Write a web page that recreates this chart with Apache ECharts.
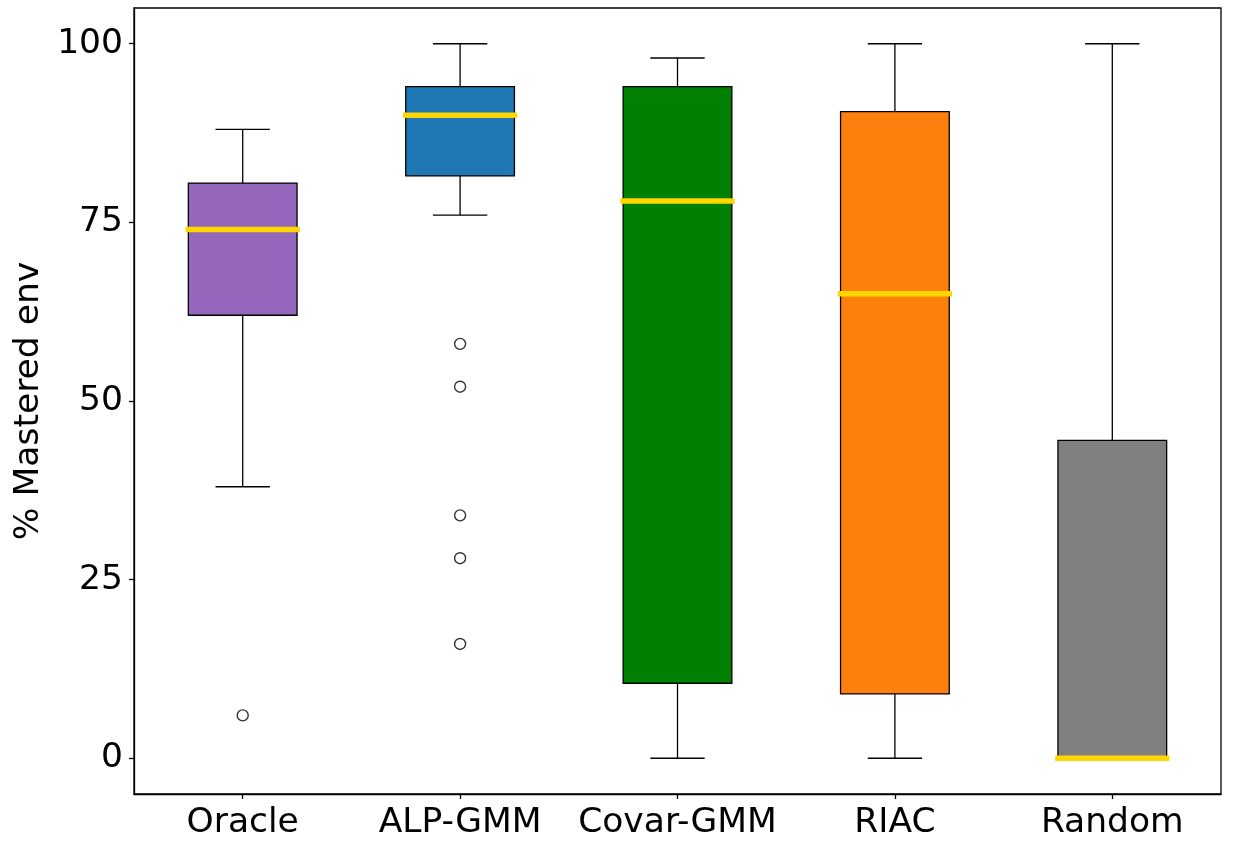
<!DOCTYPE html>
<html>
<head>
<meta charset="utf-8">
<script src="https://cdn.jsdelivr.net/npm/echarts@6/dist/echarts.min.js"></script>
<style>
html,body{margin:0;padding:0;background:#fff;}
#main{width:1244px;height:842px;}
</style>
</head>
<body>
<div id="main"></div>
<script>
var categories = ['Oracle', 'ALP-GMM', 'Covar-GMM', 'RIAC', 'Random'];
var whiskerLow = [38, 76, 0, 0, 0];
var q1 = [62, 81.5, 10.5, 9, 0];
var median = [74, 90, 78, 65, 0];
var q3 = [80.5, 94, 94, 90.5, 44.5];
var whiskerHigh = [88, 100, 98, 100, 100];
var outliers = [[6], [58, 52, 34, 28, 16], [], [], []];
var yTicks = [0, 25, 50, 75, 100];
var yTitle = '% Mastered env';

var boxColors = ['#9467bd', '#1f77b4', '#008000', '#ff7f0e', '#808080'];
var FONT = 'DejaVu Sans';
var FS = 34.5;

var boxData = categories.map(function (c, i) {
  return [i, whiskerLow[i], q1[i], median[i], q3[i], whiskerHigh[i]];
});
var outlierData = [];
outliers.forEach(function (arr, i) {
  arr.forEach(function (v) { outlierData.push([i, v]); });
});

var chart = echarts.init(document.getElementById('main'), null, {renderer: 'canvas'});
chart.setOption({
  animation: false,
  backgroundColor: '#fff',
  grid: {left: 134, right: 23, top: 8, bottom: 48, show: true, borderColor: '#000', borderWidth: 1.3, backgroundColor: 'transparent'},
  xAxis: {
    type: 'category',
    data: categories,
    boundaryGap: true,
    axisLine: {show: true, onZero: false, lineStyle: {color: '#000', width: 1.3}},
    axisTick: {show: true, alignWithLabel: true, interval: 0, length: 5, lineStyle: {color: '#000', width: 1.3}},
    axisLabel: {color: '#000', fontSize: FS, fontFamily: FONT, margin: 12, interval: 0},
    splitLine: {show: false}
  },
  yAxis: {
    type: 'value',
    min: -5,
    max: 105,
    name: yTitle,
    nameLocation: 'middle',
    nameRotate: 90,
    nameGap: 83,
    nameTextStyle: {color: '#000', fontSize: FS, fontFamily: FONT},
    axisLine: {show: true, lineStyle: {color: '#000', width: 1.3}},
    axisTick: {show: true, length: 5, customValues: yTicks, lineStyle: {color: '#000', width: 1.3}},
    axisLabel: {color: '#000', fontSize: FS, fontFamily: FONT, margin: 11, customValues: yTicks},
    splitLine: {show: false}
  },
  series: [
    {
      type: 'custom',
      data: boxData,
      encode: {x: 0, y: [1, 2, 3, 4, 5]},
      renderItem: function (params, api) {
        var idx = api.value(0);
        var band = api.size([1, 0])[0];
        var w = band * 0.5;
        var cw = band * 0.25;
        var pLow = api.coord([idx, api.value(1)]);
        var pQ1 = api.coord([idx, api.value(2)]);
        var pMed = api.coord([idx, api.value(3)]);
        var pQ3 = api.coord([idx, api.value(4)]);
        var pHigh = api.coord([idx, api.value(5)]);
        var x = pLow[0];
        var lineStyle = {stroke: '#000', lineWidth: 1.3, fill: null};
        return {
          type: 'group',
          children: [
            {type: 'line', shape: {x1: x, y1: pLow[1], x2: x, y2: pQ1[1]}, style: lineStyle},
            {type: 'line', shape: {x1: x, y1: pQ3[1], x2: x, y2: pHigh[1]}, style: lineStyle},
            {type: 'line', shape: {x1: x - cw / 2, y1: pLow[1], x2: x + cw / 2, y2: pLow[1]}, style: lineStyle},
            {type: 'line', shape: {x1: x - cw / 2, y1: pHigh[1], x2: x + cw / 2, y2: pHigh[1]}, style: lineStyle},
            {type: 'rect', shape: {x: x - w / 2, y: pQ3[1], width: w, height: pQ1[1] - pQ3[1]},
              style: {fill: boxColors[params.dataIndex], stroke: '#000', lineWidth: 1.3}},
            {type: 'line', shape: {x1: x - w / 2, y1: pMed[1], x2: x + w / 2, y2: pMed[1]},
              style: {stroke: '#ffd700', lineWidth: 5.5, lineCap: 'square'}}
          ]
        };
      },
      z: 2
    },
    {
      type: 'scatter',
      data: outlierData,
      symbol: 'circle',
      symbolSize: 11,
      itemStyle: {color: 'transparent', borderColor: '#000', borderWidth: 1.4},
      z: 3
    }
  ]
});
</script>
</body>
</html>
